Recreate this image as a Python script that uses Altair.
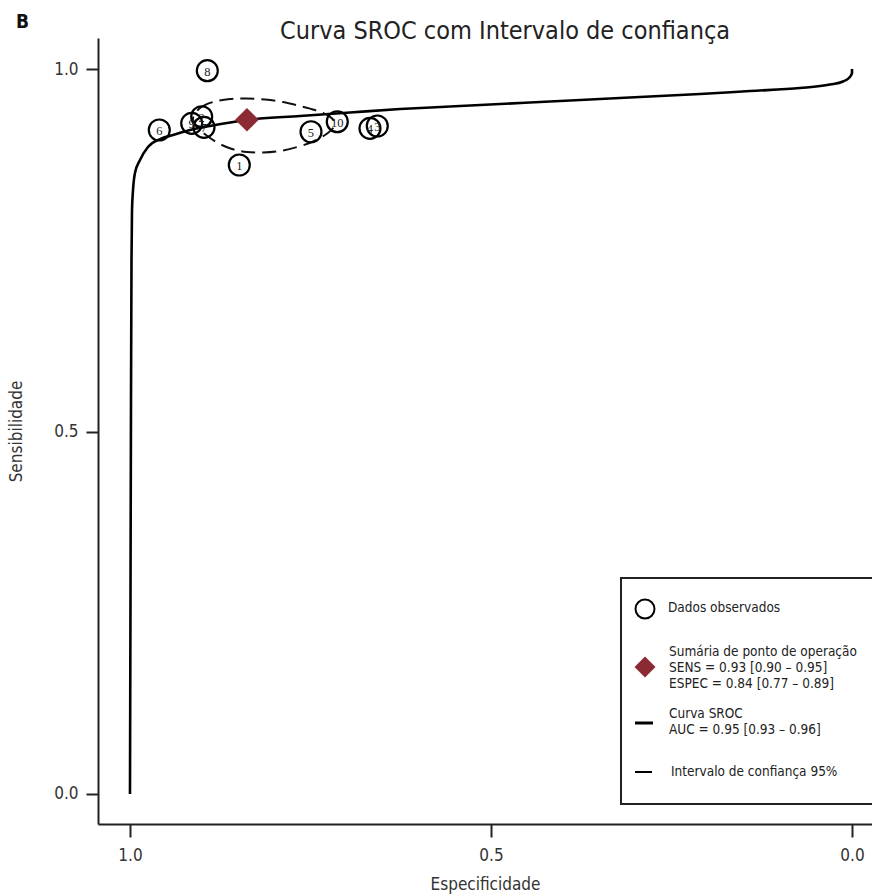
import altair as alt
import pandas as pd

FONT = "Liberation Sans Narrow, DejaVu Sans Condensed, Roboto, sans-serif"
SERIF = "Liberation Serif, DejaVu Serif, serif"

# SROC curve (specificity, sensitivity)
curve_spec = [1.0, 0.9993, 0.9986, 0.9979, 0.9972, 0.9958, 0.9931, 0.9861, 0.9751, 0.9584,
              0.9404, 0.9169, 0.8892, 0.8380, 0.7645, 0.6953, 0.6260, 0.5568, 0.4875, 0.4183,
              0.3490, 0.2798, 0.2105, 0.1413, 0.0720, 0.0305, 0.0125, 0.0042, 0.0, 0.0]
curve_sens = [0.0, 0.2676, 0.5434, 0.7366, 0.8055, 0.8331, 0.8566, 0.8745, 0.8924, 0.9034,
              0.9090, 0.9159, 0.9214, 0.9297, 0.9352, 0.9400, 0.9448, 0.9483, 0.9517, 0.9552,
              0.9586, 0.9621, 0.9655, 0.9697, 0.9738, 0.9786, 0.9828, 0.9876, 0.9945, 1.0]

# 95% confidence region (dashed ellipse)
ell_spec = [0.9127, 0.9030, 0.8850, 0.8615, 0.8380, 0.8130, 0.7881, 0.7645, 0.7438, 0.7271,
            0.7175, 0.7188, 0.7299, 0.7479, 0.7687, 0.7922, 0.8158, 0.8380, 0.8587, 0.8781,
            0.8947, 0.9072]
ell_sens = [0.9324, 0.9462, 0.9545, 0.9586, 0.9593, 0.9579, 0.9545, 0.9490, 0.9434, 0.9366,
            0.9283, 0.9186, 0.9090, 0.8993, 0.8924, 0.8869, 0.8848, 0.8855, 0.8897, 0.8979,
            0.9090, 0.9200]

# observed studies
study_id = ["8", "6", "9", "2", "7", "1", "5", "10", "4", "3"]
study_spec = [0.8929, 0.9594, 0.9145, 0.9007, 0.8975, 0.8486, 0.7493, 0.7129, 0.6676, 0.6575]
study_sens = [0.9977, 0.9159, 0.9251, 0.9342, 0.9196, 0.8676, 0.9135, 0.9273, 0.9182, 0.9214]

# summary operating point
sum_spec = [0.838]
sum_sens = [0.93]

legend_lines = ["Dados observados",
                "Sumária de ponto de operação", "SENS = 0.93 [0.90 – 0.95]", "ESPEC = 0.84 [0.77 – 0.89]",
                "Curva SROC", "AUC = 0.95 [0.93 – 0.96]",
                "Intervalo de confiança 95%"]

W, H = 774, 786
xscale = alt.Scale(domain=[-0.0277, 1.0443], reverse=True, nice=False, zero=False)
yscale = alt.Scale(domain=[-0.0414, 1.0428], nice=False, zero=False)

curve_df = pd.DataFrame({"spec": curve_spec, "sens": curve_sens, "i": range(len(curve_spec))})
ell_df = pd.DataFrame({"spec": ell_spec, "sens": ell_sens, "i": range(len(ell_spec))})
study_df = pd.DataFrame({"id": study_id, "spec": study_spec, "sens": study_sens})
sum_df = pd.DataFrame({"spec": sum_spec, "sens": sum_sens})

xax = alt.Axis(values=[0, 0.5, 1.0], format=".1f", title="Especificidade", grid=False,
               tickSize=13, tickWidth=2, tickColor="#222", domainColor="#222", domainWidth=2,
               labelFont=FONT, labelFontSize=17, labelColor="#333", labelPadding=10,
               titleFont=FONT, titleFontSize=17, titleFontWeight="normal", titleColor="#333",
               titlePadding=13)
yax = alt.Axis(values=[0, 0.5, 1.0], format=".1f", title="Sensibilidade", grid=False,
               tickSize=12, tickWidth=2, tickColor="#222", domainColor="#222", domainWidth=2,
               labelFont=FONT, labelFontSize=17, labelColor="#333", labelPadding=8,
               titleFont=FONT, titleFontSize=17, titleFontWeight="normal", titleColor="#333",
               titlePadding=28)

curve = alt.Chart(curve_df).mark_line(color="black", strokeWidth=2.6, interpolate="monotone").encode(
    x=alt.X("spec:Q", scale=xscale, axis=xax),
    y=alt.Y("sens:Q", scale=yscale, axis=yax),
    order="i:Q",
)

ellipse = alt.Chart(ell_df).mark_line(color="#111", strokeWidth=2, strokeDash=[14, 7],
                                      interpolate="cardinal-closed").encode(
    x=alt.X("spec:Q", scale=xscale),
    y=alt.Y("sens:Q", scale=yscale),
    order="i:Q",
)

circles = alt.Chart(study_df).mark_point(shape="circle", size=440, stroke="black",
                                         strokeWidth=2.2, filled=False, opacity=1).encode(
    x=alt.X("spec:Q", scale=xscale),
    y=alt.Y("sens:Q", scale=yscale),
)
labels = alt.Chart(study_df).mark_text(font=SERIF, fontSize=12.5, color="#222",
                                       baseline="middle", align="center", dy=1).encode(
    x=alt.X("spec:Q", scale=xscale),
    y=alt.Y("sens:Q", scale=yscale),
    text="id:N",
)

diamond = alt.Chart(sum_df).mark_point(shape="diamond", size=560, filled=True, color="#8c2a33",
                                       opacity=1).encode(
    x=alt.X("spec:Q", scale=xscale),
    y=alt.Y("sens:Q", scale=yscale),
)

# legend (drawn by hand, in pixel units of the plot area)
lbox = alt.Chart(sum_df).mark_rect(fill="white", stroke="#222", strokeWidth=2).encode(
    x=alt.value(523), x2=alt.value(800), y=alt.value(540), y2=alt.value(766))
lcirc = alt.Chart(sum_df).mark_point(shape="circle", size=360, stroke="black", strokeWidth=2,
                                     filled=False, opacity=1).encode(x=alt.value(547), y=alt.value(571))
ldiam = alt.Chart(sum_df).mark_point(shape="diamond", size=440, filled=True, color="#8c2a33",
                                     opacity=1).encode(x=alt.value(547), y=alt.value(629))
lthick = alt.Chart(sum_df).mark_rule(color="black", strokeWidth=3).encode(
    x=alt.value(537), x2=alt.value(555), y=alt.value(685))
lthin = alt.Chart(sum_df).mark_rule(color="black", strokeWidth=2).encode(
    x=alt.value(537), x2=alt.value(554), y=alt.value(734))

ltext_y = [570, 614, 630, 646, 676, 692, 734]
ltext_x = [570, 571, 571, 571, 571, 571, 573]
ltext_df = pd.DataFrame({"t": legend_lines, "px": ltext_x, "py": ltext_y})
ltext = alt.Chart(ltext_df).mark_text(font=FONT, fontSize=13.5, color="#222", align="left",
                                      baseline="middle").encode(
    x=alt.X("px:Q", scale=None), y=alt.Y("py:Q", scale=None), text="t:N")

title = alt.Chart(sum_df).mark_text(text="Curva SROC com Intervalo de confiança", font=FONT,
                                    fontSize=25, color="#222", align="center",
                                    baseline="alphabetic").encode(
    x=alt.value(407), y=alt.value(1))
blabel = alt.Chart(sum_df).mark_text(text="B", font=FONT, fontSize=19, fontWeight="bold",
                                     color="#111", align="left", baseline="middle").encode(
    x=alt.value(-82), y=alt.value(-16))

chart = alt.layer(curve, ellipse, circles, labels, diamond, lbox, lcirc, ldiam, lthick, lthin,
                  ltext, title, blabel).properties(
    width=W, height=H,
    autosize=alt.AutoSizeParams(type="none"),
    padding={"left": 98, "top": 38, "right": 0, "bottom": 72},
).configure_view(stroke=None)

chart.save("out.html", embed_options={"renderer": "svg", "actions": False})
